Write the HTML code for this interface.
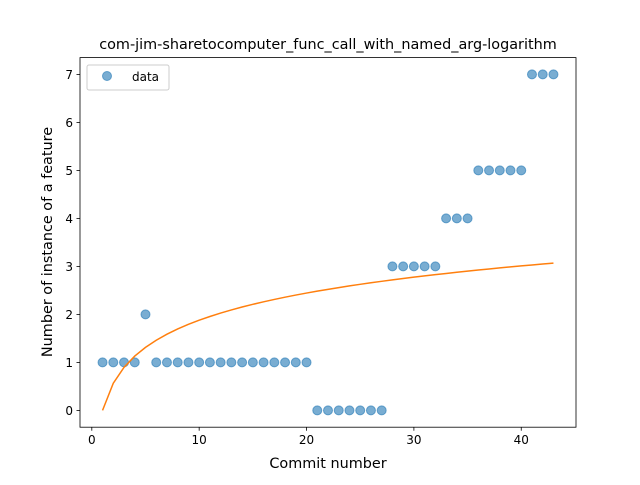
<!DOCTYPE html>
<html><head><meta charset="utf-8"><style>
body{margin:0;background:#fff;font-family:"Liberation Sans","DejaVu Sans",sans-serif}
svg text{font-family:"DejaVu Sans","Liberation Sans",sans-serif}
</style></head><body>
<svg id="chart" width="640" height="480" xmlns="http://www.w3.org/2000/svg">
<rect width="640" height="480" fill="#fff"/>
<text x="328" y="49" text-anchor="middle" font-size="14.4">com-jim-sharetocomputer_func_call_with_named_arg-logarithm</text>
<g id="plot"></g>
<rect x="80" y="57.6" width="496" height="369.6" fill="none" stroke="#000" stroke-width="0.8"/>
<text x="328" y="468" text-anchor="middle" font-size="14.4">Commit number</text>
<text transform="translate(52,242) rotate(-90)" text-anchor="middle" font-size="14.4">Number of instance of a feature</text>
<g>
<rect x="87" y="65" width="82" height="25" rx="2" fill="#fff" fill-opacity="0.8" stroke="#ccc"/>
<circle cx="107" cy="76" r="4.5" fill="#1f77b4" fill-opacity="0.6" stroke="#1f77b4" stroke-opacity="0.6"/>
<text x="132" y="81" font-size="12">data</text>
</g>
</svg>
<script>
const commits=[1,2,3,4,5,6,7,8,9,10,11,12,13,14,15,16,17,18,19,20,21,22,23,24,25,26,27,28,29,30,31,32,33,34,35,36,37,38,39,40,41,42,43];
const counts=[1,1,1,1,2,1,1,1,1,1,1,1,1,1,1,1,1,1,1,1,0,0,0,0,0,0,0,3,3,3,3,3,4,4,4,5,5,5,5,5,7,7,7];
const fitA=0, fitB=0.816;
const xTicks=[0,10,20,30,40];
const yTicks=[0,1,2,3,4,5,6,7];
const X0=80,X1=576,Y0=427.2,Y1=57.6,xmin=-1.1,xmax=45.1,ymin=-0.35,ymax=7.35;
const sx=v=>X0+(v-xmin)/(xmax-xmin)*(X1-X0);
const sy=v=>Y0-(v-ymin)/(ymax-ymin)*(Y0-Y1);
const NS="http://www.w3.org/2000/svg",g=document.getElementById('plot');
function mk(t,a){const e=document.createElementNS(NS,t);for(const k in a)e.setAttribute(k,a[k]);g.appendChild(e);return e;}
xTicks.forEach(v=>{
 const l=mk('line',{x1:sx(v),x2:sx(v),y1:Y0,y2:Y0+3.5,stroke:'#000','stroke-width':0.8});
 
 
 const t=mk('text',{x:sx(v),y:Y0+17,'text-anchor':'middle','font-size':12});t.textContent=v;
 
 
});
yTicks.forEach(v=>{
 const l=mk('line',{x1:X0-3.5,x2:X0,y1:sy(v),y2:sy(v),stroke:'#000','stroke-width':0.8});
 
 
 const t=mk('text',{x:X0-7,y:sy(v)+4.5,'text-anchor':'end','font-size':12});t.textContent=v;
 
 
});
commits.forEach((c,i)=>{
 const p=mk('circle',{cx:sx(c),cy:sy(counts[i]),r:4.5,fill:'#1f77b4','fill-opacity':0.6,stroke:'#1f77b4','stroke-opacity':0.6});
 
 
});
const pts=commits.map(c=>sx(c).toFixed(2)+','+sy(fitA+fitB*Math.log(c)).toFixed(2)).join(' ');
const fl=mk('polyline',{points:pts,fill:'none',stroke:'#ff7f0e','stroke-width':1.5});


</script>
</body></html>
